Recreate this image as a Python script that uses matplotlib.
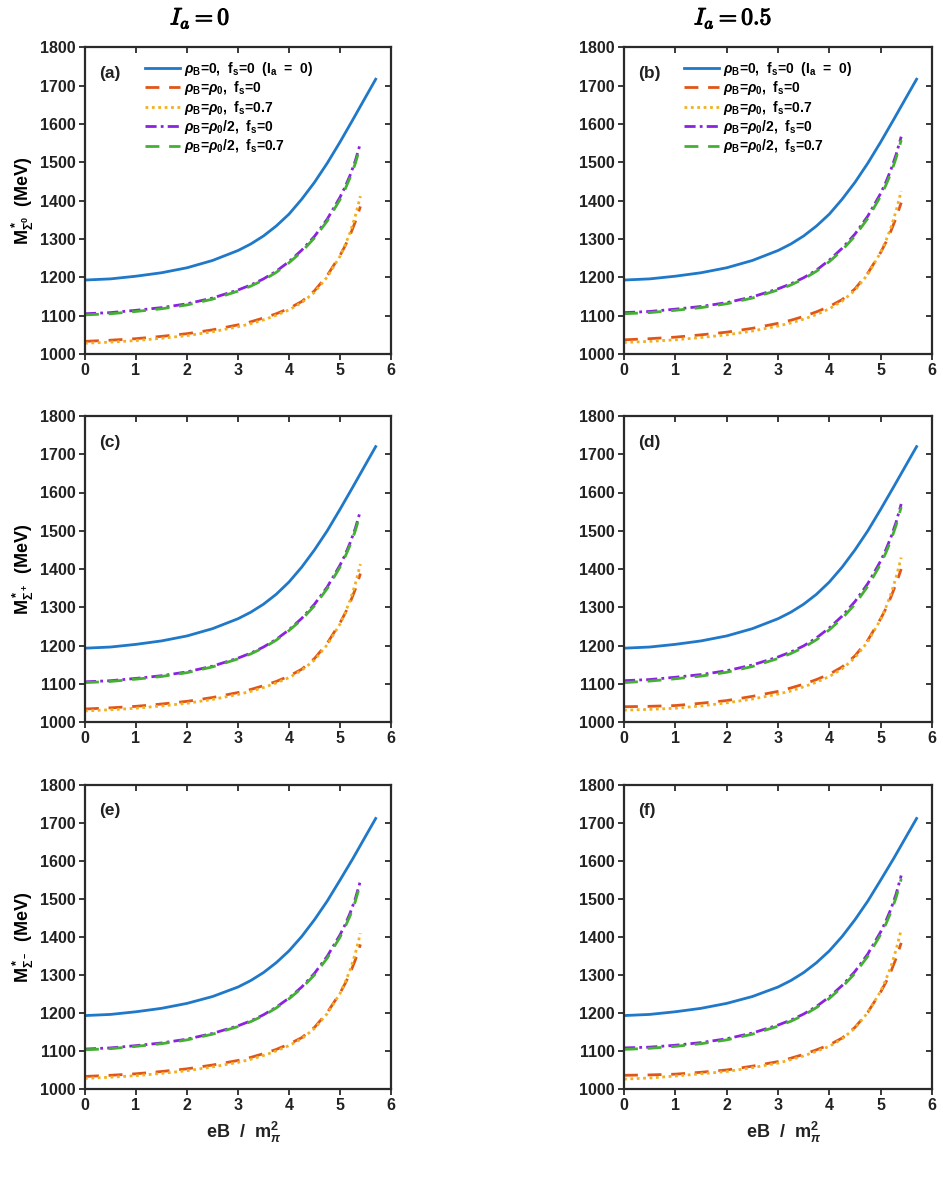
import matplotlib
matplotlib.use("Agg")
import matplotlib.pyplot as plt
import matplotlib.patheffects as pe

plt.rcParams['font.family'] = ['Liberation Sans', 'DejaVu Sans']
plt.rcParams['font.weight'] = 'bold'
plt.rcParams['mathtext.fontset'] = 'custom'
plt.rcParams['mathtext.rm'] = 'Liberation Sans:bold'
plt.rcParams['mathtext.it'] = 'Liberation Sans:italic:bold'
plt.rcParams['mathtext.bf'] = 'Liberation Sans:bold'
plt.rcParams['mathtext.sf'] = 'Liberation Sans:bold'

# ---------------- data ----------------
x_blue = [0, 0.5, 1, 1.5, 2, 2.5, 3, 3.25, 3.5, 3.75, 4, 4.25, 4.5, 4.75, 5, 5.25, 5.5, 5.7]
x_med = [0, 0.5, 1, 1.5, 2, 2.5, 3, 3.25, 3.5, 3.75, 4, 4.25, 4.5, 4.75, 5, 5.1, 5.2, 5.3, 5.4]

# panel (a)  Sigma0, Ia=0
blue_a = [1193, 1196, 1203, 1212, 1225, 1244, 1270, 1287, 1308, 1334, 1365, 1404, 1448, 1498, 1553, 1611, 1670, 1717]
purple_a = [1105, 1108, 1114, 1121, 1131, 1146, 1167, 1180, 1196, 1216, 1241, 1271, 1307, 1352, 1409, 1436, 1467, 1504, 1550]
green_a = [1102, 1105, 1111, 1118, 1128, 1143, 1164, 1177, 1193, 1213, 1238, 1267, 1303, 1347, 1403, 1430, 1461, 1497, 1543]
orange_a = [1033, 1036, 1040, 1046, 1053, 1063, 1076, 1084, 1094, 1105, 1119, 1137, 1165, 1205, 1257, 1282, 1311, 1345, 1385]
yellow_a = [1028, 1031, 1035, 1041, 1048, 1058, 1071, 1079, 1089, 1101, 1115, 1134, 1161, 1201, 1255, 1284, 1318, 1360, 1412]

# panel (b)  Sigma0, Ia=0.5
blue_b = [1193, 1196, 1203, 1212, 1225, 1244, 1270, 1287, 1308, 1334, 1365, 1404, 1448, 1498, 1553, 1611, 1670, 1717]
purple_b = [1108, 1111, 1117, 1124, 1134, 1149, 1170, 1183, 1199, 1219, 1245, 1276, 1313, 1360, 1419, 1448, 1481, 1520, 1567]
green_b = [1105, 1108, 1114, 1121, 1131, 1146, 1167, 1180, 1196, 1216, 1241, 1271, 1308, 1354, 1412, 1440, 1472, 1511, 1558]
orange_b = [1037, 1040, 1044, 1050, 1057, 1067, 1080, 1088, 1098, 1110, 1124, 1142, 1170, 1211, 1265, 1291, 1321, 1355, 1395]
yellow_b = [1030, 1033, 1037, 1043, 1050, 1060, 1073, 1081, 1091, 1103, 1118, 1138, 1166, 1208, 1265, 1295, 1330, 1373, 1425]

# panel (c)  Sigma+, Ia=0
blue_c = [1193, 1196, 1203, 1212, 1225, 1244, 1270, 1287, 1308, 1334, 1366, 1405, 1450, 1500, 1556, 1614, 1673, 1720]
purple_c = [1105, 1108, 1114, 1121, 1131, 1146, 1167, 1180, 1196, 1216, 1241, 1271, 1308, 1353, 1410, 1437, 1469, 1506, 1552]
green_c = [1103, 1106, 1112, 1119, 1129, 1144, 1165, 1178, 1194, 1214, 1239, 1268, 1304, 1349, 1405, 1432, 1463, 1500, 1545]
orange_c = [1034, 1037, 1041, 1047, 1054, 1064, 1077, 1085, 1095, 1106, 1120, 1138, 1166, 1206, 1259, 1284, 1313, 1347, 1388]
yellow_c = [1029, 1032, 1036, 1042, 1049, 1059, 1072, 1080, 1090, 1102, 1116, 1135, 1162, 1202, 1256, 1285, 1319, 1361, 1413]

# panel (d)  Sigma+, Ia=0.5
blue_d = [1193, 1196, 1203, 1212, 1225, 1244, 1270, 1287, 1308, 1334, 1366, 1405, 1450, 1500, 1556, 1614, 1673, 1720]
purple_d = [1108, 1111, 1117, 1124, 1134, 1149, 1170, 1183, 1199, 1220, 1246, 1277, 1315, 1362, 1421, 1450, 1483, 1522, 1570]
green_d = [1103, 1107, 1113, 1120, 1130, 1145, 1166, 1179, 1195, 1215, 1241, 1271, 1308, 1355, 1413, 1442, 1475, 1514, 1562]
orange_d = [1040, 1041, 1043, 1049, 1056, 1067, 1080, 1089, 1099, 1111, 1125, 1144, 1173, 1214, 1270, 1296, 1327, 1361, 1400]
yellow_d = [1031, 1033, 1036, 1042, 1050, 1060, 1073, 1081, 1092, 1104, 1119, 1139, 1168, 1210, 1268, 1299, 1335, 1378, 1430]

# panel (e)  Sigma-, Ia=0
blue_e = [1193, 1196, 1203, 1212, 1225, 1243, 1268, 1285, 1306, 1332, 1363, 1401, 1445, 1494, 1549, 1605, 1664, 1711]
purple_e = [1105, 1108, 1114, 1121, 1131, 1146, 1166, 1179, 1195, 1215, 1239, 1268, 1304, 1349, 1405, 1432, 1463, 1500, 1547]
green_e = [1103, 1106, 1112, 1119, 1129, 1144, 1164, 1177, 1193, 1213, 1237, 1265, 1300, 1344, 1399, 1426, 1456, 1493, 1540]
orange_e = [1033, 1036, 1040, 1046, 1053, 1063, 1075, 1083, 1093, 1104, 1118, 1135, 1162, 1201, 1252, 1277, 1305, 1339, 1380]
yellow_e = [1028, 1031, 1035, 1041, 1048, 1058, 1070, 1078, 1088, 1100, 1114, 1132, 1159, 1198, 1251, 1280, 1314, 1356, 1409]

# panel (f)  Sigma-, Ia=0.5
blue_f = [1193, 1196, 1203, 1212, 1225, 1243, 1268, 1285, 1306, 1332, 1363, 1401, 1445, 1494, 1549, 1605, 1664, 1711]
purple_f = [1108, 1110, 1115, 1122, 1132, 1147, 1168, 1181, 1197, 1217, 1242, 1272, 1309, 1355, 1413, 1441, 1473, 1512, 1561]
green_f = [1104, 1107, 1112, 1119, 1129, 1144, 1165, 1178, 1194, 1214, 1238, 1268, 1304, 1349, 1406, 1433, 1465, 1503, 1552]
orange_f = [1036, 1037, 1039, 1044, 1050, 1060, 1072, 1081, 1091, 1103, 1116, 1134, 1162, 1202, 1255, 1280, 1309, 1343, 1384]
yellow_f = [1026, 1029, 1034, 1040, 1046, 1056, 1068, 1077, 1087, 1099, 1112, 1132, 1160, 1201, 1257, 1287, 1322, 1366, 1419]

panel_tags = ['(a)', '(b)', '(c)', '(d)', '(e)', '(f)']
ylabels = [r'M$^*_{\Sigma^0}$  (MeV)', r'M$^*_{\Sigma^+}$  (MeV)', r'M$^*_{\Sigma^-}$  (MeV)']
col_titles = [r'$I_a = 0$', r'$I_a = 0.5$']
xlabel = r'eB  /  m$_\pi^2$'
legend_labels = [r'$\rho_\mathrm{B}$=0,  f$_\mathrm{s}$=0  (I$_\mathrm{a}$  =  0)',
                 r'$\rho_\mathrm{B}$=$\rho_0$,  f$_\mathrm{s}$=0',
                 r'$\rho_\mathrm{B}$=$\rho_0$,  f$_\mathrm{s}$=0.7',
                 r'$\rho_\mathrm{B}$=$\rho_0$/2,  f$_\mathrm{s}$=0',
                 r'$\rho_\mathrm{B}$=$\rho_0$/2,  f$_\mathrm{s}$=0.7']
x_ticks = [0, 1, 2, 3, 4, 5, 6]
y_ticks = [1000, 1100, 1200, 1300, 1400, 1500, 1600, 1700, 1800]

panels = [
    (blue_a, orange_a, yellow_a, purple_a, green_a),
    (blue_b, orange_b, yellow_b, purple_b, green_b),
    (blue_c, orange_c, yellow_c, purple_c, green_c),
    (blue_d, orange_d, yellow_d, purple_d, green_d),
    (blue_e, orange_e, yellow_e, purple_e, green_e),
    (blue_f, orange_f, yellow_f, purple_f, green_f),
]

# ---------------- styles ----------------
c_blue = '#1f78c8'
c_orange = '#e0561a'
c_yellow = '#f2b01e'
c_purple = '#8a22e0'
c_green = '#44b033'
styles = [
    dict(color=c_blue, lw=2.0, ls='-'),
    dict(color=c_orange, lw=2.0, ls=(0, (5, 3.5))),
    dict(color=c_yellow, lw=2.0, ls=(0, (1, 1.3))),
    dict(color=c_purple, lw=2.0, ls=(0, (4, 1.5, 1, 1.5))),
    dict(color=c_green, lw=2.0, ls=(0, (5, 3.5))),
]

W, H = 943, 1188
fig = plt.figure(figsize=(W / 100, H / 100), dpi=100)

col_left = [85 / W, 624 / W]
col_width = [306 / W, 308 / W]
row_bottom = [1 - 354 / H, 1 - 722 / H, 1 - 1089 / H]
row_height = [306.6 / H, 306 / H, 304.4 / H]

spine_col = '#2a2a2a'
for i in range(6):
    r, c = divmod(i, 2)
    ax = fig.add_axes([col_left[c], row_bottom[r], col_width[c], row_height[r]])
    data = panels[i]
    lines = []
    for k, ys in enumerate(data):
        xs = x_blue if k == 0 else x_med
        ln, = ax.plot(xs, ys, **styles[k])
        lines.append(ln)
    ax.set_xlim(0, 6)
    ax.set_ylim(1000, 1800)
    ax.set_xticks(x_ticks)
    ax.set_yticks(y_ticks)
    for s in ax.spines.values():
        s.set_linewidth(1.6)
        s.set_color(spine_col)
    ax.tick_params(axis='both', which='both', labelsize=11.5, width=1.3, length=4,
                   color=spine_col, labelcolor='#222222', pad=2.5)
    ax.tick_params(top=True, right=True)
    ax.tick_params(axis='both', which='both', direction='out')
    for t in ax.xaxis.get_major_ticks():
        t.tick2line.set_marker(3)  # inward on top
    for t in ax.yaxis.get_major_ticks():
        t.tick2line.set_marker(0)  # inward on right
    for lab in ax.get_xticklabels() + ax.get_yticklabels():
        lab.set_fontweight('bold')
    ax.text(0.045, 0.915, panel_tags[i], transform=ax.transAxes, fontsize=12.5,
            fontweight='bold', va='center', ha='left', color='#222222')
    if c == 0:
        ax.set_ylabel(ylabels[r], fontsize=13, fontweight='bold', labelpad=3)
    if r == 2:
        ax.text(0.5 + 6 / 306, -(1132 - 1089) / 304.4, xlabel, transform=ax.transAxes,
                ha='center', va='center', fontsize=13, fontweight='bold', color='#222222')
    if r == 0:
        leg = ax.legend(lines, legend_labels, loc='upper left', bbox_to_anchor=(0.155, 1.0),
                        frameon=False, fontsize=10, handlelength=2.5, handletextpad=0.3,
                        labelspacing=0.1, borderaxespad=0.5)
        for t in leg.get_texts():
            t.set_fontweight('bold')

# column titles
title_x = [200 / W, 733 / W]
for c in range(2):
    fig.text(title_x[c], 1 - 18 / H, col_titles[c], ha='center', va='center',
             fontsize=17, math_fontfamily='cm', color='black',
             path_effects=[pe.withStroke(linewidth=0.8, foreground='black')])

fig.savefig('out.png', dpi=100)
